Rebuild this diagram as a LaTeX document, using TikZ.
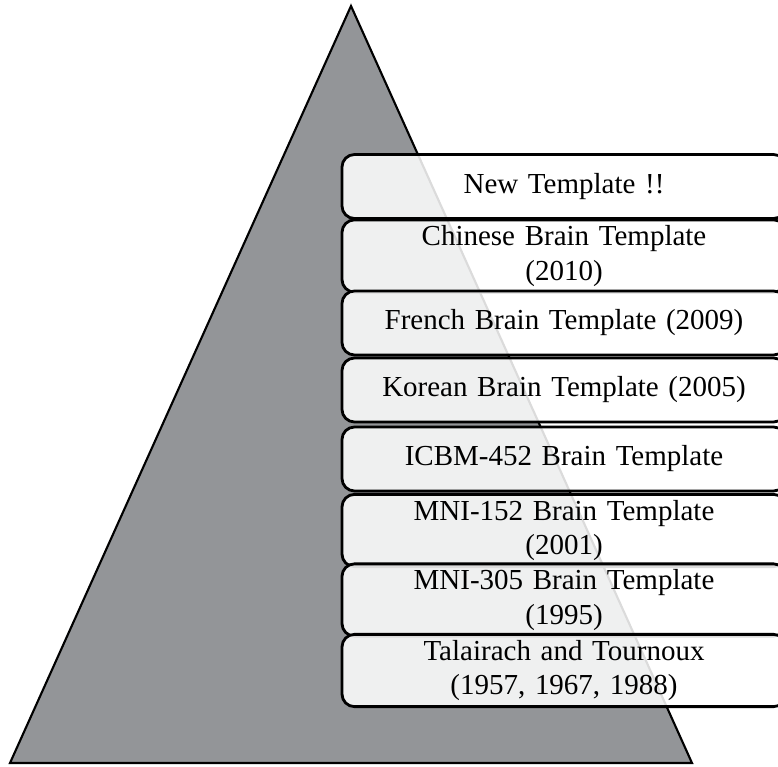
\documentclass[tikz,border=0pt]{standalone}
\usepackage{fontspec}
\setmainfont{Liberation Serif}
\definecolor{pyrgray}{RGB}{147,149,152}
\tikzset{
  tmpl/.style = {draw, line width=1.6pt, rounded corners=0.25cm,
    fill=white, fill opacity=0.86, text opacity=1,
    minimum width=8.88cm, minimum height=1.28cm,
    text width=8.6cm, align=center,
    font=\fontsize{16.5}{19.5}\selectfont}
}
\begin{document}
\begin{tikzpicture}
  \useasboundingbox (0,0) rectangle (15.56,15.32);
  \clip (0,0) rectangle (15.56,15.32);
  % pyramid
  \coordinate (apex) at (7.02,15.2);
  \coordinate (bl) at (0.2,0.06);
  \coordinate (br) at (13.84,0.06);
  \draw[line width=1.2pt, fill=pyrgray] (apex) -- (br) -- (bl) -- cycle;
  % templates, newest on top
  \node[tmpl] (new) at (11.28,11.59) {New Template !!};
  \node[tmpl] (chinese) at (11.28,10.20) {Chinese Brain Template\\(2010)};
  \node[tmpl] (french) at (11.28,8.86) {French Brain Template (2009)};
  \node[tmpl] (korean) at (11.28,7.52) {Korean Brain Template (2005)};
  \node[tmpl] (icbm) at (11.28,6.14) {ICBM-452 Brain Template};
  \node[tmpl] (mni152) at (11.28,4.71) {MNI-152 Brain Template\\(2001)};
  \node[tmpl] (mni305) at (11.28,3.32) {MNI-305 Brain Template\\(1995)};
  \node[tmpl] (talairach) at (11.28,1.91) {Talairach and Tournoux\\(1957, 1967, 1988)};
\end{tikzpicture}
\end{document}
